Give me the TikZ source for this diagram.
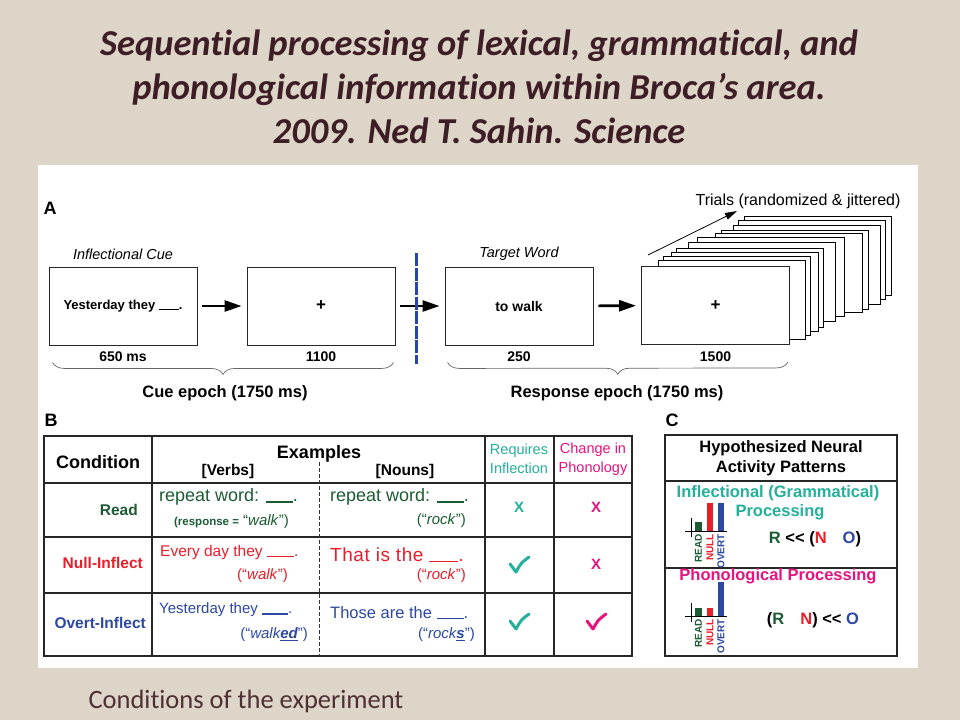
\documentclass[tikz,border=0pt]{standalone}
\usepackage{fontspec}
\setmainfont{Liberation Sans}
\newfontfamily\slidefont[Ligatures={NoCommon}]{Carlito}
\usetikzlibrary{arrows.meta,positioning,decorations.pathreplacing}
\definecolor{paper}{RGB}{221,213,199}
\definecolor{titleink}{RGB}{62,30,38}
\definecolor{captionink}{RGB}{78,48,52}
\definecolor{tealc}{RGB}{36,176,154}
\definecolor{magc}{RGB}{228,20,128}
\definecolor{dkgreen}{RGB}{28,92,52}
\definecolor{nullred}{RGB}{232,30,42}
\definecolor{overtblue}{RGB}{44,72,162}
\definecolor{splitblue}{RGB}{40,70,170}
\newcommand{\blank}[1][26pt]{\rule[-1pt]{#1}{1.5pt}}
\newcommand{\chk}[3]{% x, y, colour
\draw[#3,line width=3pt,line cap=round,line join=round] (#1-9,#2-1) -- (#1-3,#2+7) .. controls (#1+2,#2-2) .. (#1+10,#2-8);
}
\newcommand{\activitybars}[4]{% axis y, read top, null top, overt top
\fill[dkgreen] (695,#1) rectangle (702,#2);
\fill[nullred] (707,#1) rectangle (713,#3);
\fill[overtblue] (718,#1) rectangle (724,#4);
\draw[line width=0.8pt] (685,#1) -- (727,#1);
\draw[line width=0.8pt] (691,#1-13) -- (691,#1+6);
\node[barlab,text=dkgreen] at (698.5,#1+3) {READ};
\node[barlab,text=nullred] at (710,#1+3) {NULL};
\node[barlab,text=overtblue] at (721,#1+3) {OVERT};
}

\begin{document}
\begin{tikzpicture}[x=1pt,y=-1pt,
	screen/.style={draw=black!85,fill=white,line width=0.9pt,minimum width=148pt,minimum height=78pt,inner sep=0pt},
	flow/.style={line width=2.6pt,-{Triangle[length=17pt,width=11pt]},shorten >=5pt,shorten <=5pt},
	lab/.style={font=\fontsize{14}{16}\selectfont\bfseries},
	cuelabel/.style={font=\fontsize{14.5}{16}\selectfont\itshape},
	epoch/.style={font=\fontsize{16.5}{18}\selectfont\bfseries},
	brace/.style={decorate,decoration={brace,mirror,amplitude=12pt},draw=black!60,line width=0.7pt},
	letter/.style={font=\fontsize{18}{20}\selectfont\bfseries},
	tablerule/.style={draw=black!85,line width=1.1pt},
	head/.style={font=\fontsize{18}{20}\selectfont\bfseries},
	cell/.style={inner sep=0pt},
	sub/.style={font=\fontsize{15}{17}\selectfont,inner sep=0pt},
	cross/.style={font=\fontsize{15}{17}\selectfont\bfseries},
	barlab/.style={rotate=90,anchor=east,font=\fontsize{10}{10}\selectfont\bfseries,inner sep=0pt},
	formula/.style={font=\fontsize{16.5}{18}\selectfont\bfseries},
	titletext/.style={font=\slidefont\fontsize{36.5}{40}\selectfont\bfseries\itshape,text=titleink,anchor=base}]
	\useasboundingbox (0,0) rectangle (960,720);
	\fill[paper] (0,0) rectangle (960,720);
	
	% title
	\node[titletext] (title1) at (479,55) {Sequential processing of lexical, grammatical, and};
	\node[titletext] (title2) at (479,99) {phonological information within Broca’s area.};
	\node[titletext] (title3) at (479,143) {2009. Ned T. Sahin. Science};
	
	\fill[white] (38,165) rectangle (918,668);
	
	% A: trial timeline
	\node[letter] (lA) at (50,208) {A};
	\node[screen] (cue) at (123,306) {\fontsize{13}{15}\selectfont\bfseries Yesterday they \blank[20pt].};
	\node[screen] (fix1) at (321,306) {\fontsize{17}{17}\selectfont\bfseries +};
	\node[screen] (target) at (519,306) {\fontsize{14}{16}\selectfont\bfseries to walk};
	\foreach \dx/\dy in {102/-50,96/-46,91/-41,79/-36,73/-33,55/-29,46/-24,34/-18,29/-14,21/-10,16/-6}
		\draw[fill=white,line width=0.9pt] (642+\dx,266+\dy) rectangle (789+\dx,345+\dy);
	\node[screen] (fix2) at (715.5,305.5) {\fontsize{17}{17}\selectfont\bfseries +};
	
	\node[cuelabel,above=3pt of cue] (cueName) {Inflectional Cue};
	\node[cuelabel,above=3pt of target] (targetName) {Target Word};
	\node[lab,below=3pt of cue] (tCue) {650 ms};
	\node[lab,below=3pt of fix1] (tFix1) {1100};
	\node[lab,below=3pt of target] (tTarget) {250};
	\node[lab,below=3pt of fix2] (tFix2) {1500};
	
	\draw[flow] (cue) -- (fix1);
	\draw[flow] (fix1) -- (target);
	\draw[flow] (target) -- (fix2);
	
	\coordinate (splitTop) at (416,253);
	\coordinate (splitBot) at (416,364);
	\draw[splitblue,line width=3pt,dash pattern=on 13pt off 1.5pt] (splitTop) -- (splitBot);
	
	\node[font=\fontsize{16}{18}\selectfont] (trials) at (798,201) {Trials (randomized \& jittered)};
	\coordinate (trialsFoot) at (648,255);
	\coordinate (trialsTip) at (737,211);
	\draw[line width=0.8pt,-{Triangle[length=12pt,width=7pt]}] (trialsFoot) -- (trialsTip);
	
	\draw[brace] ([xshift=4pt,yshift=-17pt]cue.south west) -- ([xshift=-2pt,yshift=-17pt]fix1.south east);
	\draw[brace] ([xshift=3pt,yshift=-17pt]target.south west) -- ([xshift=-2pt,yshift=-17pt]fix2.south east);
	\node[epoch] (cueEpoch) at (225,393) {Cue epoch (1750 ms)};
	\node[epoch] (respEpoch) at (617,393) {Response epoch (1750 ms)};
	
	% B: conditions table
	\node[letter] (lB) at (51,420) {B};
	\draw[tablerule] (44,436) rectangle (632,656);
	\foreach \y in {483,537,593}
		\draw[tablerule] (44,\y) -- (632,\y);
	\foreach \x in {152,485,554}
		\draw[tablerule] (\x,436) -- (\x,656);
	\draw[black!80,line width=0.6pt,dash pattern=on 4pt off 2pt] (319,462) -- (319,656);
	
	\node[head] (hCond) at (98,462) {Condition};
	\node[head] (hEx) at (319,454) {Examples};
	\node[font=\fontsize{15.5}{17}\selectfont\bfseries] (hVerbs) at (228,471) {[Verbs]};
	\node[font=\fontsize{15.5}{17}\selectfont\bfseries] (hNouns) at (405,471) {[Nouns]};
	\node[text=tealc,font=\fontsize{14.5}{19}\selectfont,align=center,inner sep=0pt] (hInfl) at (519,459) {Requires\\Inflection};
	\node[text=magc,font=\fontsize{14.5}{19}\selectfont,align=center,inner sep=0pt] (hPhon) at (593,459) {Change in\\Phonology};
	
	\node[cell,anchor=east,font=\fontsize{15.5}{17}\selectfont\bfseries,text=dkgreen] (cRead) at (138,510) {Read};
	\node[cell,anchor=east,font=\fontsize{15.5}{17}\selectfont\bfseries,text=nullred] (cNull) at (143,563) {Null-Inflect};
	\node[cell,anchor=east,font=\fontsize{15.5}{17}\selectfont\bfseries,text=overtblue] (cOvert) at (146,623) {Overt-Inflect};
	
	\node[cell,anchor=west,text=dkgreen,font=\fontsize{18}{20}\selectfont] (readVerb) at (159,497) {repeat word: \blank[27pt].};
	\node[sub,anchor=east,text=dkgreen] (readVerbR) at (289,522) {{\fontsize{11.5}{13}\selectfont\bfseries(response =} ``\textit{walk}'')};
	\node[cell,anchor=west,text=dkgreen,font=\fontsize{18}{20}\selectfont] (readNoun) at (330,497) {repeat word: \blank[27pt].};
	\node[sub,anchor=east,text=dkgreen] (readNounR) at (466,521) {(``\textit{rock}'')};
	
	\node[cell,anchor=west,text=nullred,font=\fontsize{15.5}{18}\selectfont] (nullVerb) at (160,552) {Every day they \blank[27pt].};
	\node[sub,anchor=east,text=nullred] (nullVerbR) at (288,576) {(``\textit{walk}'')};
	\node[cell,anchor=west,text=nullred,font=\fontsize{19}{21}\selectfont\addfontfeature{LetterSpace=3}] (nullNoun) at (330,555) {That is the \blank[29pt].};
	\node[sub,anchor=east,text=nullred] (nullNounR) at (466,576) {(``\textit{rock}'')};
	
	\node[cell,anchor=west,text=overtblue,font=\fontsize{15}{17}\selectfont] (overtVerb) at (159,610) {Yesterday they \blank[26pt].};
	\node[sub,anchor=east,text=overtblue] (overtVerbR) at (308,635) {(``\textit{walk\underline{\textbf{ed}}}'')};
	\node[cell,anchor=west,text=overtblue,font=\fontsize{16.5}{18}\selectfont] (overtNoun) at (330,613) {Those are the \blank[27pt].};
	\node[sub,anchor=east,text=overtblue] (overtNounR) at (475,635) {(``\textit{rock\underline{\textbf{s}}}'')};
	
	\node[cross,text=tealc] (xInflRead) at (519,507) {X};
	\node[cross,text=magc] (xPhonRead) at (596,507) {X};
	\node[cross,text=magc] (xPhonNull) at (596,564) {X};
	\chk{519}{565}{tealc}
	\chk{519}{622}{tealc}
	\chk{596}{622}{magc}
	
	% C: hypothesized patterns
	\node[letter] (lC) at (672,420) {C};
	\draw[tablerule] (665,435) rectangle (897,656);
	\foreach \y in {481,568}
		\draw[tablerule] (665,\y) -- (897,\y);
	\node[formula,align=center,font=\fontsize{16.5}{20}\selectfont\bfseries] (hPattern) at (781,458) {Hypothesized Neural\\Activity Patterns};
	\node[formula,text=tealc] (inflTitle) at (778,493) {Inflectional (Grammatical)};
	\node[formula,text=tealc] (inflTitle2) at (780,512) {Processing};
	\activitybars{531}{522}{503}{503}
	\node[formula] (inflRule) at (815,539) {\textcolor{dkgreen}{R} {<}{<} (\textcolor{nullred}{N}\hspace{16pt}\textcolor{overtblue}{O})};
	\node[formula,text=magc] (phonTitle) at (778,576) {Phonological Processing};
	\activitybars{616}{608}{608}{582}
	\node[formula] (phonRule) at (813,620) {(\textcolor{dkgreen}{R}\hspace{16pt}\textcolor{nullred}{N}) {<}{<} \textcolor{overtblue}{O}};
	
	\node[font=\slidefont\fontsize{26.5}{30}\selectfont,text=captionink,anchor=base west] (caption) at (85,708) {Conditions of the experiment};
\end{tikzpicture}
\end{document}
